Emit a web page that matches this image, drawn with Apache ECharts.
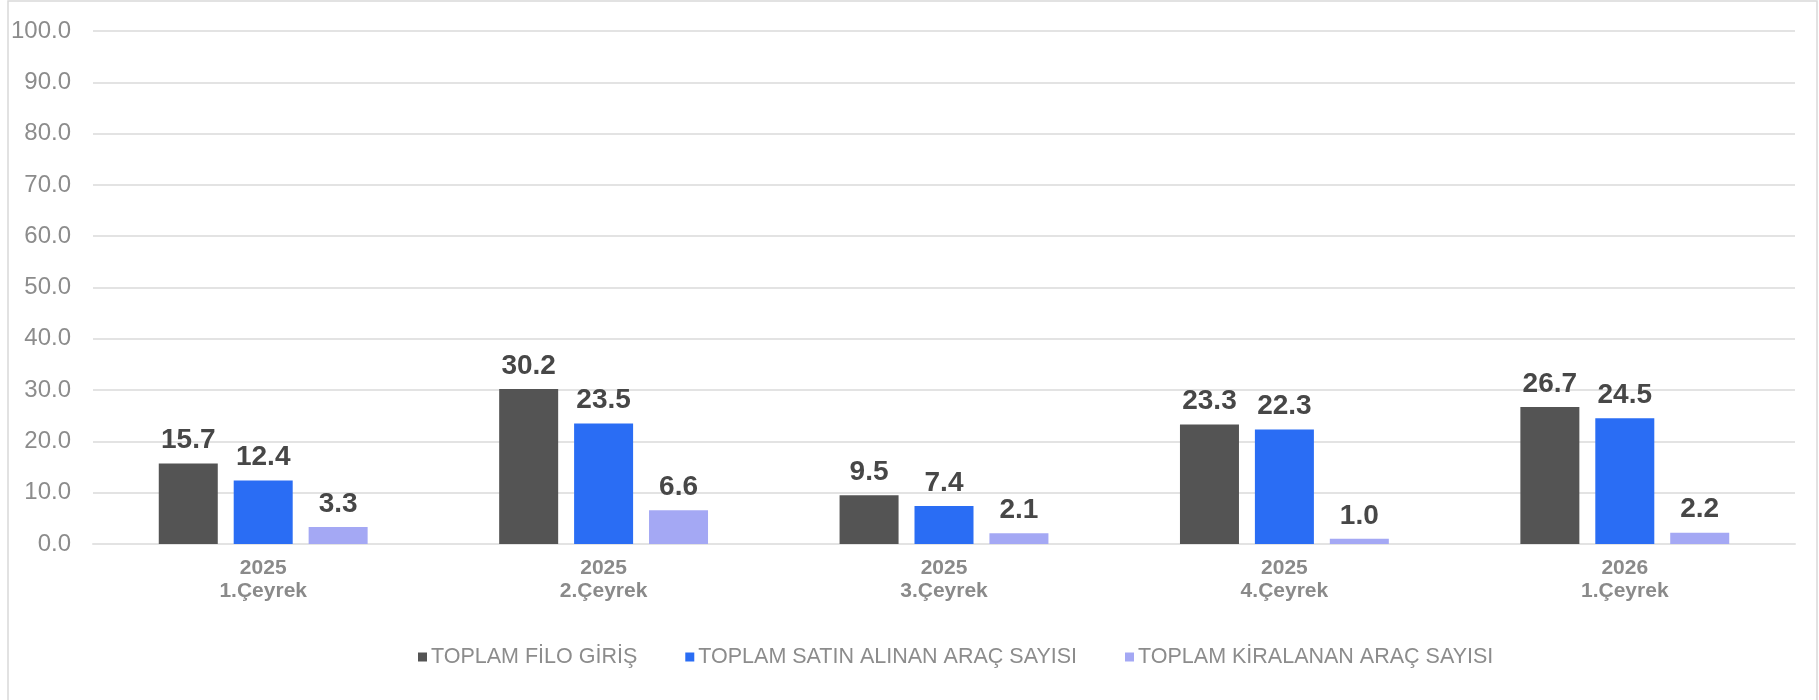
<!DOCTYPE html>
<html>
<head>
<meta charset="utf-8">
<title>Filo Giriş</title>
<script src="https://cdn.jsdelivr.net/npm/echarts@6/dist/echarts.min.js"></script>
<style>
  html, body { margin: 0; padding: 0; background: #ffffff; }
  #chart { width: 1819px; height: 700px; }
</style>
</head>
<body>
<div id="chart"></div>
<script>
// Quarters on the x axis (year + quarter on two lines)
const categories = ['2025\n1.Çeyrek', '2025\n2.Çeyrek', '2025\n3.Çeyrek', '2025\n4.Çeyrek', '2026\n1.Çeyrek'];

// Series names and values
const seriesNames = ['TOPLAM FİLO GİRİŞ', 'TOPLAM SATIN ALINAN ARAÇ SAYISI', 'TOPLAM KİRALANAN ARAÇ SAYISI'];
const filoGiris = [15.7, 30.2, 9.5, 23.3, 26.7];
const satinAlinan = [12.4, 23.5, 7.4, 22.3, 24.5];
const kiralanan = [3.3, 6.6, 2.1, 1.0, 2.2];

// Value axis range
const yMin = 0;
const yMax = 100;
const yStep = 10;

const colors = ['#545454', '#2a6df4', '#a4a8f4'];
const FONT = '"Liberation Sans", Arial, sans-serif';

const chart = echarts.init(document.getElementById('chart'), null, { renderer: 'canvas' });

function barSeries(name, data, color) {
  return {
    name: name,
    type: 'bar',
    data: data,
    barWidth: 59,
    barGap: '27%',
    itemStyle: { color: color },
    label: {
      show: true,
      position: 'top',
      distance: 9,
      formatter: p => p.value.toFixed(1),
      fontFamily: FONT,
      fontSize: 28,
      fontWeight: 'bold',
      color: '#474747'
    }
  };
}

chart.setOption({
  animation: false,
  textStyle: { fontFamily: FONT },
  graphic: [{
    type: 'rect',
    shape: { x: 8, y: 1, width: 1809, height: 720 },
    style: { fill: 'none', stroke: '#d9d9d9', lineWidth: 1.5 },
    silent: true,
    z: -10
  }],
  grid: { left: 93, right: 24, top: 31, bottom: 156 },
  legend: {
    left: 413,
    top: 641,
    icon: 'rect',
    itemWidth: 9,
    itemHeight: 9,
    itemGap: 48,
    textStyle: { fontFamily: FONT, fontSize: 21.5, color: '#8c8c8c', padding: [0, 0, 0, -1] },
    data: seriesNames
  },
  xAxis: {
    type: 'category',
    data: categories,
    axisLine: { show: true, lineStyle: { color: '#e3e3e3', width: 2 } },
    axisTick: { show: false },
    axisLabel: {
      margin: 13,
      fontFamily: FONT,
      fontSize: 21,
      fontWeight: 'bold',
      lineHeight: 23,
      color: '#8a8a8a'
    }
  },
  yAxis: {
    type: 'value',
    min: yMin,
    max: yMax,
    interval: yStep,
    axisLine: { show: false },
    axisTick: { show: false },
    splitLine: { lineStyle: { color: '#e3e3e3', width: 2 } },
    axisLabel: {
      margin: 22,
      fontFamily: FONT,
      fontSize: 24,
      color: '#8c8c8c',
      formatter: v => v.toFixed(1)
    }
  },
  series: [
    barSeries(seriesNames[0], filoGiris, colors[0]),
    barSeries(seriesNames[1], satinAlinan, colors[1]),
    barSeries(seriesNames[2], kiralanan, colors[2])
  ]
});
</script>
</body>
</html>
